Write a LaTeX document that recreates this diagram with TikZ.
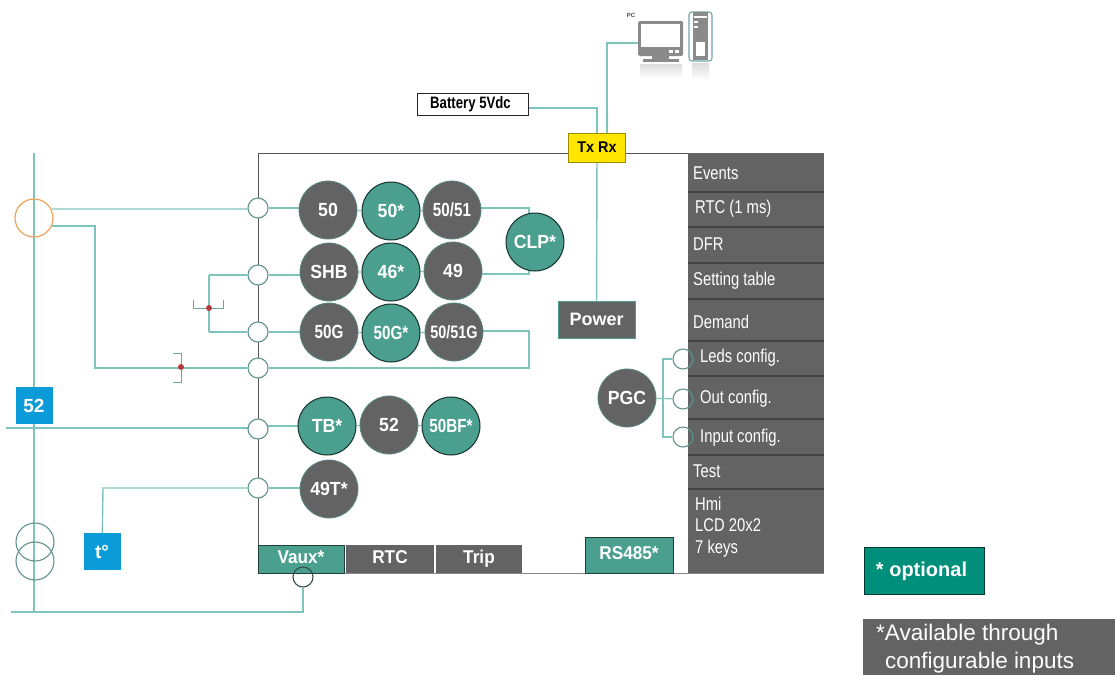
\documentclass[tikz,border=0pt]{standalone}
\usepackage{fontspec}
\setmainfont{Liberation Sans}
\newfontfamily\condf[FakeStretch=0.8]{Liberation Sans}
\newfontfamily\semif[FakeStretch=0.93]{Liberation Sans}
\usetikzlibrary{backgrounds}
\definecolor{wire}{HTML}{7FC4BB}
\definecolor{frameg}{HTML}{555555}
\definecolor{cellg}{HTML}{636363}
\definecolor{optg}{HTML}{4A9F8E}
\definecolor{optdark}{HTML}{008F7A}
\definecolor{blueb}{HTML}{0A9BD8}
\definecolor{ringo}{HTML}{EFA35A}
\definecolor{dotr}{HTML}{B5393A}
\definecolor{yel}{HTML}{FFE600}
\tikzset{
  wirel/.style={draw=wire,line width=1.4pt},
  brk/.style={draw=wire!85!black,line width=1pt},
  term/.style={circle,draw=wire!75!black,line width=1.1pt,fill=white,minimum size=20pt,inner sep=0pt},
  ringn/.style={circle,draw=wire!75!black,line width=1.1pt,minimum size=38pt,inner sep=0pt},
  fn/.style={circle,minimum size=58pt,inner sep=0pt,text=white,font=\bfseries\semif\fontsize{19}{20}\selectfont},
  fng/.style={fn,fill=cellg,draw=wire!70!black,line width=0.8pt},
  fno/.style={fn,fill=optg,draw=black!70!optg,line width=1pt},
  small/.style={font=\bfseries\condf\fontsize{19}{20}\selectfont},
  cell/.style={anchor=west,text=white,inner sep=0pt,font=\condf\fontsize{18.5}{21.5}\selectfont},
  bar/.style={minimum height=28pt,inner sep=0pt,text height=13pt,text depth=4pt,text=white,font=\bfseries\semif\fontsize{18.5}{20}\selectfont},
  blue/.style={fill=blueb,minimum size=37pt,inner sep=0pt,text=white,font=\bfseries\fontsize{19}{20}\selectfont},
  dotn/.style={circle,fill=dotr,minimum size=6pt,inner sep=0pt}
}
\begin{document}
\begin{tikzpicture}[x=1pt,y=-1pt]
\useasboundingbox (0,0) rectangle (1115,675);

% frame
\draw[frameg,line width=1pt] (258,545) -- (258,153) -- (824,153);
\draw[frameg!70,line width=1pt] (258,573) -- (824,573);

% terminal circles on the left edge
\node[term] (t1) at (258,208) {};
\node[term] (t2) at (258,275) {};
\node[term] (t3) at (258,332) {};
\node[term] (t4) at (258,368) {};
\node[term] (t5) at (258,429) {};
\node[term] (t6) at (258,488) {};

% protection functions
\node[fng] (a1) at (328,210) {50};
\node[fno] (a2) at (391,211) {50*};
\node[fng,small] (a3) at (452,210) {50/51};
\node[fng] (b1) at (329,272) {SHB};
\node[fno] (b2) at (391,272) {46*};
\node[fng] (b3) at (453,271) {49};
\node[fng,small] (c1) at (329,332) {50G};
\node[fno,small] (c2) at (391,333) {50G*};
\node[fng,small,font=\bfseries\condf\fontsize{18}{20}\selectfont] (c3) at (454,332) {50/51G};
\node[fno] (clp) at (535,242) {CLP*};
\node[fno] (e1) at (327,426) {TB*};
\node[fng] (e2) at (389,425) {52};
\node[fno,small] (e3) at (451,426) {50BF*};
\node[fng] (f1) at (329,489) {49T*};
\node[fng] (pgc) at (627,398) {PGC};

% Power, Tx Rx, battery
\node[fill=cellg,draw=optg,line width=0.8pt,minimum width=77pt,minimum height=37pt,inner sep=0pt,text=white,font=\bfseries\fontsize{18}{20}\selectfont] (pw) at (596.5,319.5) {Power};
\node[fill=yel,draw=yel!60!black,line width=1pt,minimum width=57pt,minimum height=29pt,inner sep=0pt,font=\bfseries\semif\fontsize{15.5}{18}\selectfont] (tx) at (597,147.5) {Tx Rx};
\node[fill=white,draw=black!85,line width=1pt,minimum width=111pt,minimum height=22pt,inner sep=0pt,font=\bfseries\condf\fontsize{16.5}{18}\selectfont] (bat) at (473,104) {Battery 5Vdc\hspace*{5pt}};

% white left halves of the config circles, and of the Vaux one
\node[term,draw=none] (l1) at (683,359) {};
\node[term,draw=none] (l2) at (683,399) {};
\node[term,draw=none] (l3) at (683,437) {};
\node[term,draw=none] (vt) at (303,577) {};

% panel on the right
\fill[cellg] (688,153) rectangle (824,573);
\foreach \yy in {192,227,263,299,341,376,419,455,489}
  \draw[frameg!80!black,line width=1.4pt] (688,\yy) -- (824,\yy);
\node[cell] (p1) at (693,173) {Events};
\node[cell] (p2) at (695,209) {RTC (1 ms)};
\node[cell] (p3) at (693,244) {DFR};
\node[cell] (p4) at (693,281) {Setting table};
\node[cell] (p5) at (693,322) {Demand};
\node[cell] (p6) at (700,358) {Leds config.};
\node[cell] (p7) at (700,399) {Out config.};
\node[cell] (p8) at (700,438) {Input config.};
\node[cell] (p9) at (693,471) {Test};
\node[cell,align=left] (p10) at (695,527) {Hmi\\LCD 20x2\\7 keys};

% bottom bars
\node[bar,fill=optg,draw=black!60!optg,line width=0.8pt,minimum width=86pt] (vx) at (301,559) {Vaux*};
\node[bar,fill=cellg,minimum width=88pt] (rtc) at (390,559) {RTC};
\node[bar,fill=cellg,minimum width=86pt] (trip) at (479,559) {Trip};
\node[bar,fill=optg,draw=black!60!optg,line width=0.8pt,minimum width=88pt,minimum height=36pt] (rs) at (629,555) {RS485*};

% outlines over the panel and the bar
\draw[wire!75!black,line width=1.1pt] (l1) circle[radius=10pt];
\draw[wire!75!black,line width=1.1pt] (l2) circle[radius=10pt];
\draw[wire!75!black,line width=1.1pt] (l3) circle[radius=10pt];
\draw[wire!40!black,line width=1.1pt] (vt) circle[radius=10pt];

% field devices
\node[blue] (br) at (34,405.5) {52};
\node[blue] (temp) at (102,551.5) {t°};
\node[circle,draw=ringo,line width=1.2pt,minimum size=38pt,inner sep=0pt] (ct) at (34,218) {};
\node[ringn] (vt1) at (35,542) {};
\node[ringn] (vt2) at (35,561) {};

% junction dots
\node[dotn] (d1) at (209,308) {};
\node[dotn] (d2) at (181,367) {};

% named free ends and corners
\coordinate (bustop) at (34,153);
\coordinate (busbot) at (34,612);
\coordinate (ctA) at (52,209);
\coordinate (ctB) at (52,226);
\coordinate (ctC) at (95,226);
\coordinate (ctD) at (95,368);
\coordinate (brl) at (6,428);
\coordinate (botl) at (11,612);
\coordinate (botr) at (303,612);
\coordinate (tc) at (103,488);
\coordinate (k1) at (529,208);
\coordinate (k2) at (529,274);
\coordinate (k3) at (529,331);
\coordinate (k4) at (529,368);
\coordinate (jx) at (209,275);
\coordinate (jy) at (209,332);
\coordinate (batc) at (597,108);
\coordinate (pca) at (607,133);
\coordinate (pcb) at (607,43);
\coordinate (pcc) at (638,43);
\coordinate (pgL) at (663,359);
\coordinate (pgM) at (663,398);
\coordinate (pgN) at (663,437);

% connectors (behind the nodes)
\begin{pgfonlayer}{background}
\draw[wirel] (bustop) -- (busbot);
\draw[wirel] (ctA) -- (t1.west |- ctA) -- (t1);
\draw[wirel] (ctB) -- (ctC) -- (ctD) -- (t4);
\draw[wirel] (jx) -- (t2);
\draw[wirel] (jy) -- (t3);
\draw[wirel] (jx) -- (jy);
\draw[wirel] (brl) -- (brl -| t5) ;
\draw[wirel] (botl) -- (botr) -- (vt);
\draw[wirel] (temp) -- (tc) -- (t6);
\draw[wirel] (t1) -- (t1 -| a1);
\draw[wirel] (a1) -- (a2) -- (a3);
\draw[wirel] (t2) -- (t2 -| b1);
\draw[wirel] (b1) -- (b2) -- (b3);
\draw[wirel] (t3) -- (t3 -| c1);
\draw[wirel] (c1) -- (c2) -- (c3);
\draw[wirel] (a3 |- k1) -- (k1) -- (k2) -- (b3 |- k2);
\draw[wirel] (c3 |- k3) -- (k3) -- (k4) -- (t4);
\draw[wirel] (t5 |- e1) -- (e1);
\draw[wirel] (e1) -- (e2) -- (e3);
\draw[wirel] (t6) -- (t6 -| f1);
\draw[wirel] (tx) -- (pw);
\draw[wirel] (bat.east |- batc) -- (batc) -- (tx.north -| batc);
\draw[wirel] (pca) -- (pcb) -- (pcc);
\draw[wirel,line width=1.1pt] (l1) -- (pgL) -- (pgN) -- (l3);
\draw[wirel,line width=1.1pt] (pgc) -- (l2);
\end{pgfonlayer}

% brackets at the junction dots
\draw[brk] (193,300) -- (193,308) -- (d1) -- (223,308) -- (223,300);
\draw[brk] (173,353) -- (181,353) -- (d2) -- (181,382) -- (173,382);

% PC
\node[font=\bfseries\fontsize{6}{7}\selectfont,text=black!70,inner sep=0pt] (pclabel) at (631,15) {PC};
\shade[top color=gray!28,bottom color=white] (640,64) rectangle (682,78);
\shade[top color=gray!28,bottom color=white] (692,63) rectangle (709,80);
\fill[cellg!75!white,rounded corners=1.5pt] (638,21) rectangle (683,56);
\fill[white] (641,24) rectangle (680,47);
\fill[cellg!75!white] (652,56) rectangle (669,59);
\fill[cellg!75!white] (643,59) rectangle (679,62);
\fill[white] (675,50) rectangle (679,53);
\fill[white] (669,50) rectangle (673,53);
\draw[wire!85!black,line width=1.1pt,rounded corners=3pt] (689,12) rectangle (712,61);
\fill[cellg!75!white] (693,12) rectangle (708,60);
\fill[white] (696,42) rectangle (705,56);
\fill[white] (694,16) rectangle (707,18);
\fill[white] (694,21) rectangle (698,23);
\fill[white] (694,26) rectangle (698,28);

% legend
\node[fill=optdark,draw=black!60!optdark,line width=0.8pt,minimum width=120pt,minimum height=47pt,inner sep=0pt,text=white,font=\bfseries\fontsize{20}{24}\selectfont] (opt) at (924,571) {* optional\hspace*{5pt}};
\fill[cellg] (863,619) rectangle (1115,675);
\node[anchor=north west,inner sep=0pt,text=white,align=left,font=\fontsize{22.5}{27.5}\selectfont] (av) at (876,624) {*Available through\\[0pt]\hspace*{9pt}configurable inputs};
\end{tikzpicture}
\end{document}
